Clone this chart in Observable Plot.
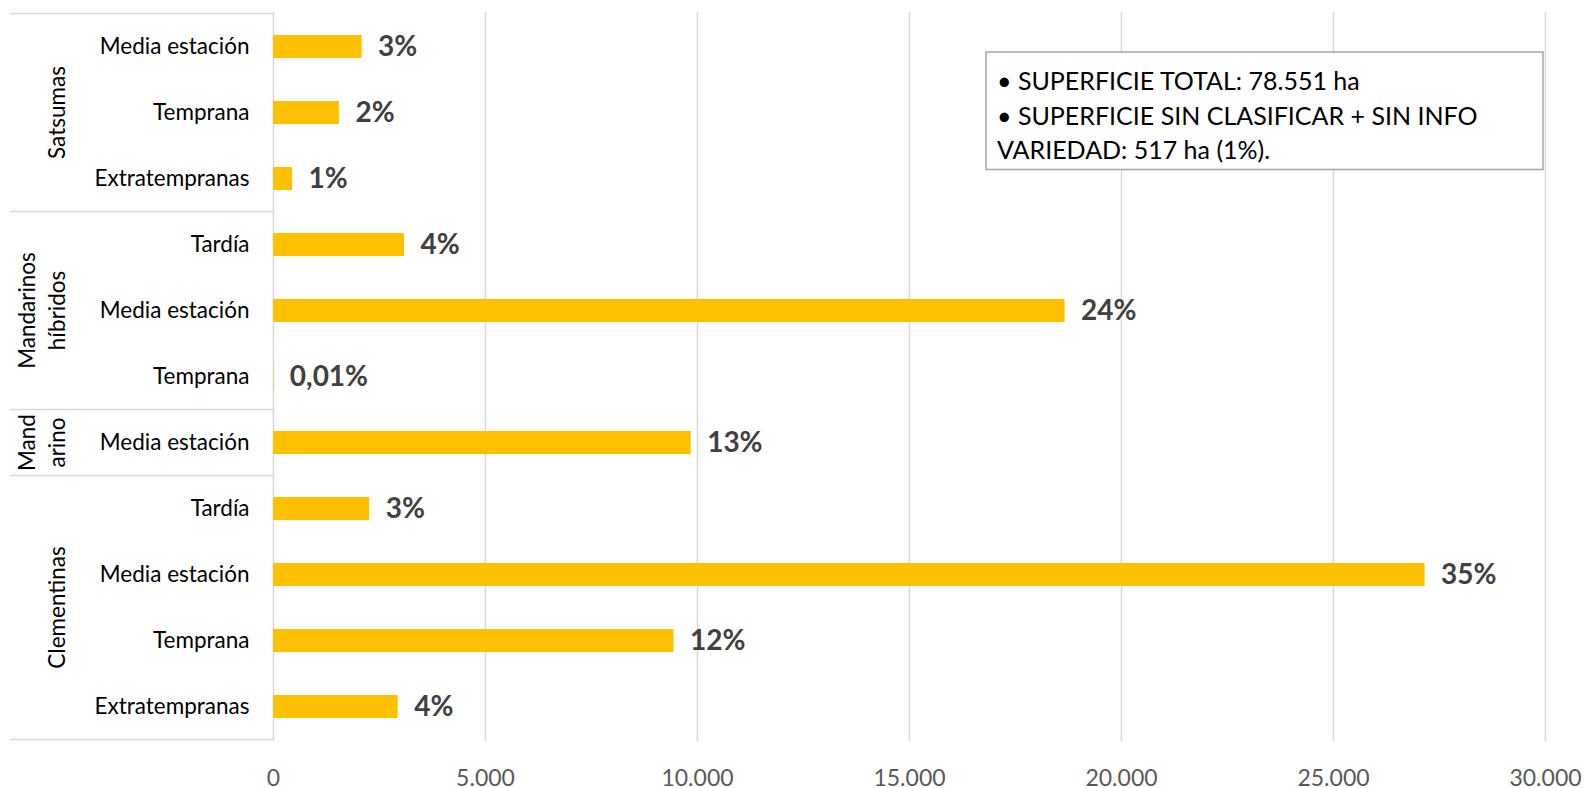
<!DOCTYPE html>
<html>
<head>
<meta charset="utf-8">
<script src="https://cdn.jsdelivr.net/npm/d3@7"></script>
<script src="https://cdn.jsdelivr.net/npm/@observablehq/plot@0.6"></script>
<style>
  html, body { margin: 0; padding: 0; background: #fff; }
  #chart { width: 1586px; height: 788px; }
</style>
</head>
<body>
<div id="chart"></div>
<script>
// ---- data ----
const grupos = ["Satsumas", "Satsumas", "Satsumas",
  "Mandarinos híbridos", "Mandarinos híbridos", "Mandarinos híbridos",
  "Mandarino",
  "Clementinas", "Clementinas", "Clementinas", "Clementinas"];
const variedades = ["Media estación", "Temprana", "Extratempranas",
  "Tardía", "Media estación", "Temprana",
  "Media estación",
  "Tardía", "Media estación", "Temprana", "Extratempranas"];
const superficie = [2090, 1555, 450, 3090, 18670, 8, 9850, 2270, 27160, 9445, 2940];
const porcentajes = ["3%", "2%", "1%", "4%", "24%", "0,01%", "13%", "3%", "35%", "12%", "4%"];
const gruposOrden = ["Satsumas", "Mandarinos híbridos", "Mandarino", "Clementinas"];
const gruposEtiqueta = [["Satsumas"], ["Mandarinos", "híbridos"], ["Mand", "arino"], ["Clementinas"]];
const xTicks = [0, 5000, 10000, 15000, 20000, 25000, 30000];
const notas = ["• SUPERFICIE TOTAL: 78.551 ha", "• SUPERFICIE SIN CLASIFICAR + SIN INFO", "VARIEDAD: 517 ha (1%)."];

// ---- build table ----
const data = variedades.map((v, i) => ({
  key: grupos[i] + "|" + v,
  grupo: grupos[i],
  variedad: v,
  superficie: superficie[i],
  pct: porcentajes[i]
}));

const es = d3.formatLocale({decimal: ",", thousands: ".", grouping: [3], currency: ["", " €"]});
const fmt = es.format(",d");

const FONT = "Lato, 'Open Sans', sans-serif";
const LINE = "#d9d9d9";

function tabla(index, scales, values, dimensions) {
  const y = scales.y;
  const x = scales.x;
  const bw = y.bandwidth();
  const step = y.step();
  const half = (step - bw) / 2;
  const g = d3.create("svg:g").attr("font-family", FONT);
  const left = 10;
  const right = dimensions.marginLeft;
  const bounds = [];
  gruposOrden.forEach((gr, gi) => {
    const keys = data.filter(d => d.grupo === gr).map(d => d.key);
    const top = y(keys[0]) - half;
    const bottom = y(keys[keys.length - 1]) + bw + half;
    if (gi === 0) bounds.push(top);
    bounds.push(bottom);
    const cy = (top + bottom) / 2;
    const lines = gruposEtiqueta[gi];
    lines.forEach((ln, li) => {
      const bx = 65 - (lines.length - 1 - li) * 30;
      g.append("text")
        .attr("transform", `translate(${bx},${cy}) rotate(-90)`)
        .attr("text-anchor", "middle")
        .attr("font-size", 22.5)
        .attr("fill", "#000")
        .text(ln);
    });
  });
  bounds.forEach(b => {
    g.append("line")
      .attr("x1", left).attr("x2", right)
      .attr("y1", b).attr("y2", b)
      .attr("stroke", LINE).attr("stroke-width", 1.6);
  });
  // annotation box
  const bx0 = 986, by0 = 52, bx1 = x(30000) - 2, by1 = 169.5;
  g.append("rect")
    .attr("x", bx0).attr("y", by0)
    .attr("width", bx1 - bx0).attr("height", by1 - by0)
    .attr("fill", "#fff").attr("stroke", "#a6a6a6").attr("stroke-width", 1.5);
  notas.forEach((t, i) => {
    g.append("text")
      .attr("x", bx0 + 11)
      .attr("y", by0 + 38 + i * 34.5)
      .attr("text-anchor", "start")
      .attr("font-size", 25)
      .attr("fill", "#000")
      .text(t);
  });
  return g.node();
}

const chart = Plot.plot({
  width: 1586,
  height: 788,
  marginLeft: 273,
  marginRight: 41,
  marginTop: 12,
  marginBottom: 47,
  style: {fontFamily: FONT, background: "#fff", overflow: "visible"},
  x: {domain: [0, 30000], ticks: xTicks, label: null},
  y: {domain: data.map(d => d.key), paddingInner: 0.65, paddingOuter: 0.325, label: null},
  marks: [
    Plot.ruleX(xTicks, {stroke: LINE, strokeWidth: 1.6}),
    Plot.barX(data, {x: "superficie", y: "key", fill: "#FFC000"}),
    Plot.text(data, {x: "superficie", y: "key", text: "pct", textAnchor: "start", dx: 16,
      fontSize: 28, fontWeight: "bold", fill: "#404040"}),
    Plot.axisX(xTicks, {tickSize: 0, tickPadding: 28, tickFormat: fmt, fontSize: 23, color: "#595959", label: null}),
    Plot.axisY({tickSize: 0, tickPadding: 24, tickFormat: k => k.split("|")[1], fontSize: 22.5, color: "#000", label: null}),
    tabla
  ]
});
document.getElementById("chart").appendChild(chart);
</script>
</body>
</html>
